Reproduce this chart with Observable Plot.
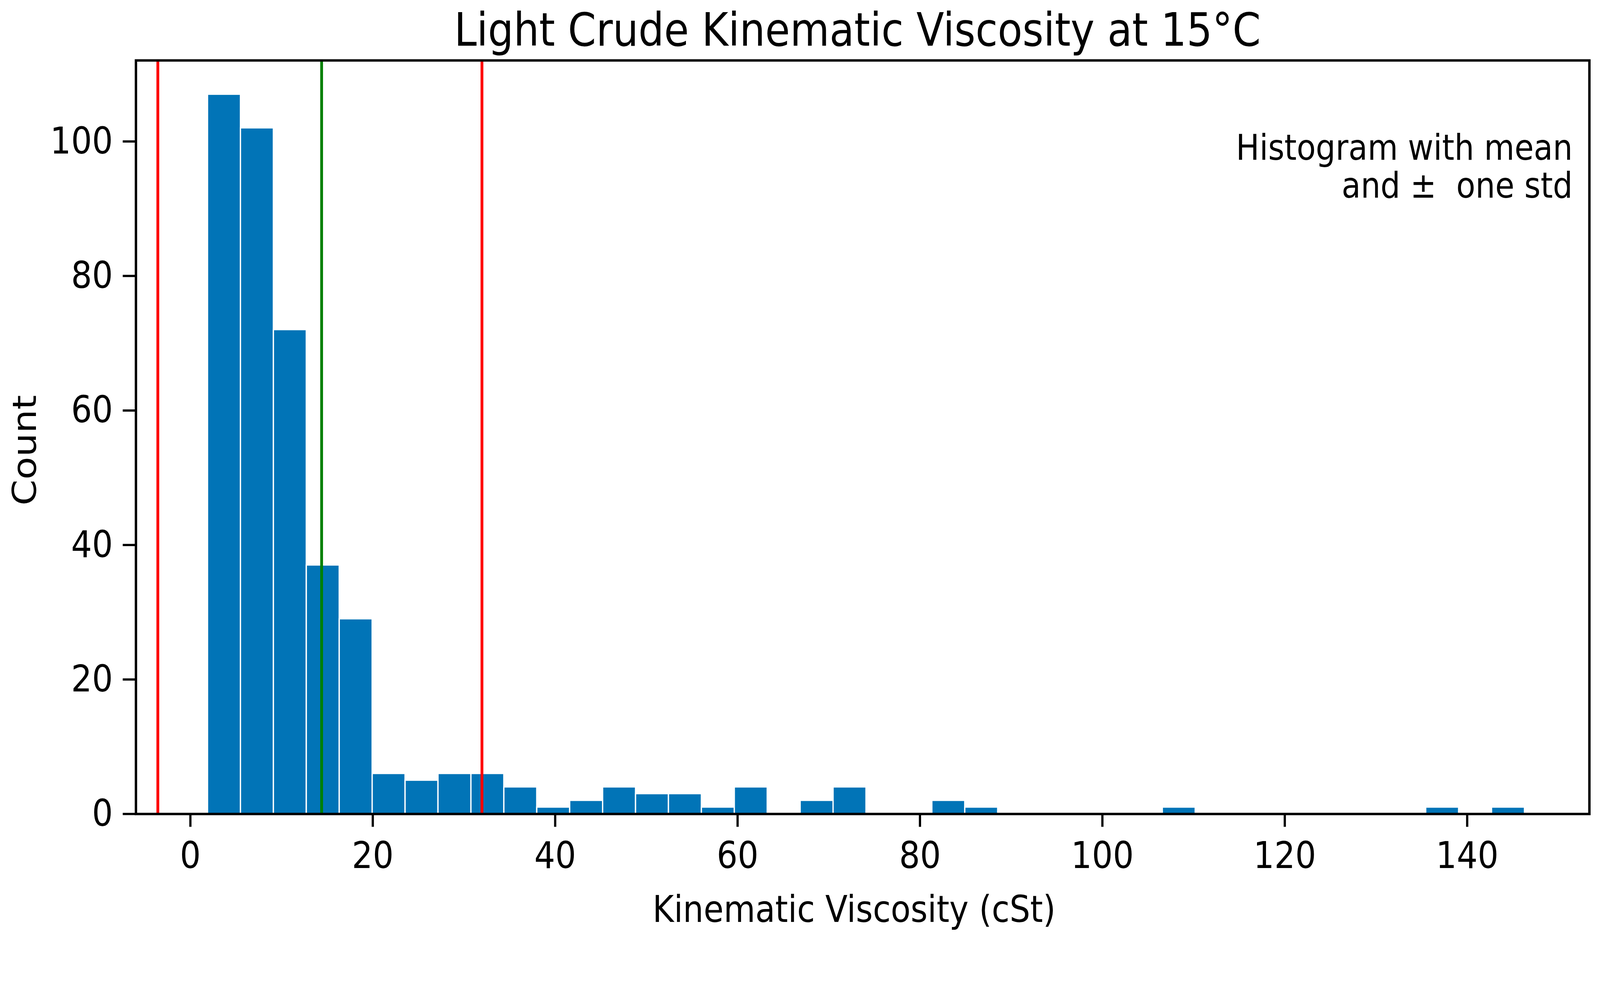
<!DOCTYPE html>
<html><head><meta charset="utf-8">
<script src="https://cdn.jsdelivr.net/npm/d3@7"></script>
<script src="https://cdn.jsdelivr.net/npm/@observablehq/plot@0.6"></script>
<style>
html,body{margin:0;padding:0;background:#fff;overflow:hidden;}
svg text{white-space:pre;}
</style></head><body><div id="chart"></div>
<script>
// Histogram bin edges (cSt) and counts
const binEdges = [1.90, 5.51, 9.12, 12.73, 16.34, 19.95, 23.56, 27.17, 30.78, 34.39, 38.00,
  41.61, 45.22, 48.83, 52.44, 56.05, 59.66, 63.27, 66.88, 70.49, 74.10,
  77.71, 81.32, 84.93, 88.54, 92.15, 95.76, 99.37, 102.98, 106.59, 110.20,
  113.81, 117.42, 121.03, 124.64, 128.25, 131.86, 135.47, 139.08, 142.69, 146.30];
const counts = [107,102,72,37,29, 6,5,6,6,4, 1,2,4,3,3, 1,4,0,2,4,
  0,0,2,1,0, 0,0,0,0,1, 0,0,0,0,0, 0,0,1,0,1];
const meanValue = [14.39];
const stdBounds = [-3.57, 31.97];
const xTicks = [0, 20, 40, 60, 80, 100, 120, 140];
const yTicks = [0, 20, 40, 60, 80, 100];
const titleText = "Light Crude Kinematic Viscosity at 15°C";
const xLabel = "Kinematic Viscosity (cSt)";
const yLabel = "Count";
const noteText = "Histogram with mean\nand ±  one std";

const bins = counts.map((c, i) => ({x1: binEdges[i], x2: binEdges[i + 1], count: c})).filter(d => d.count > 0);
const font = "DejaVu Sans";

const svg = Plot.plot({
  width: 4302, height: 2524,
  marginLeft: 365, marginRight: 29, marginTop: 162, marginBottom: 336,
  style: {fontFamily: font, background: "#fff", color: "#000"},
  x: {domain: [-5.97, 153.4], label: null},
  y: {domain: [0, 112.05], label: null},
  marks: [
    Plot.rectY(bins, {x1: "x1", x2: "x2", y: "count", fill: "#0174b7", stroke: "#fff", strokeWidth: 3.5}),
    Plot.ruleX(stdBounds, {stroke: "#ff0000", strokeWidth: 7.5}),
    Plot.ruleX(meanValue, {stroke: "#008000", strokeWidth: 7.5}),
    Plot.frame({stroke: "#000", strokeWidth: 6.5}),
    Plot.axisX({ticks: xTicks, tickSize: 35, tickPadding: 39, fontSize: 100, strokeWidth: 6, label: null, tickFormat: d => String(d)}),
    Plot.axisY({ticks: yTicks, tickSize: 35, tickPadding: 27, fontSize: 100, strokeWidth: 6, label: null, tickFormat: d => String(d)}),
    Plot.text([titleText], {frameAnchor: "top", dx: -14, dy: -40, lineAnchor: "bottom", textAnchor: "middle", fontSize: 123, fill: "#000"}),
    Plot.text([noteText], {frameAnchor: "top-right", dx: -45, dy: 195, lineAnchor: "top", textAnchor: "end", fontSize: 95, lineHeight: 1.074, fill: "#000"}),
    Plot.text([xLabel], {frameAnchor: "bottom", dx: -23, dy: 290, lineAnchor: "bottom", textAnchor: "middle", fontSize: 99, fill: "#000"}),
    Plot.text([yLabel], {frameAnchor: "left", dx: -269, dy: 35, rotate: -90, lineAnchor: "bottom", textAnchor: "middle", fontSize: 100, fill: "#000"})
  ]
});

// Reference text is horizontally condensed; squeeze glyphs about their anchors
const sx = 0.884;
const isNum = v => v != null && /^-?[\d.]+$/.test(v.trim());
svg.querySelectorAll("text").forEach(t => {
  const tr = t.getAttribute("transform") || "";
  const xa = t.getAttribute("x"), ya = t.getAttribute("y");
  const x = isNum(xa) ? +xa : 0, y = isNum(ya) ? +ya : 0;
  const s = /rotate/.test(tr) ? `scale(1,${sx})` : `scale(${sx},1)`;
  t.setAttribute("transform", `${tr} translate(${x},${y}) ${s} translate(${-x},${-y})`.trim());
});
document.getElementById("chart").appendChild(svg);
</script></body></html>
